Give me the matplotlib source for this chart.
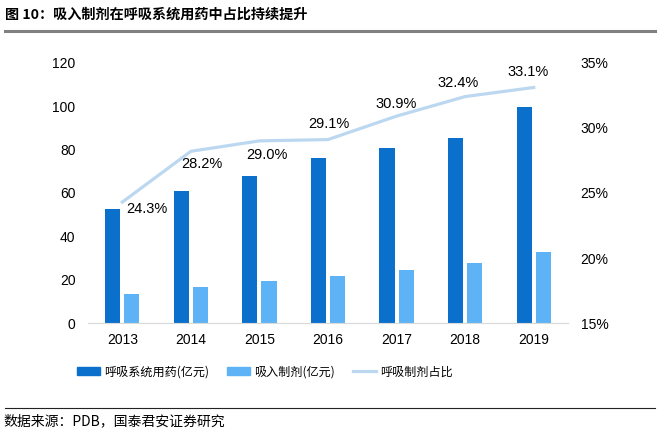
import numpy as np
import matplotlib
matplotlib.use("Agg")
import matplotlib.pyplot as plt
from matplotlib.lines import Line2D

plt.rcParams['font.family'] = ['Liberation Sans', 'Noto Sans CJK SC', 'DejaVu Sans']

# 数据
anios = ['2013', '2014', '2015', '2016', '2017', '2018', '2019']
respiratorio = [52.7, 61.0, 67.8, 76.2, 80.6, 85.2, 99.4]
inhalacion = [13.3, 16.9, 19.5, 21.9, 24.7, 27.6, 33.0]
proporcion = [24.3, 28.2, 29.0, 29.1, 30.9, 32.4, 33.1]

etiquetas_izq = [0, 20, 40, 60, 80, 100, 120]
etiquetas_der = [15, 20, 25, 30, 35]

c_oscuro = '#0b70cc'
c_claro = '#5db3f5'
c_linea = '#bcd8f0'

fig = plt.figure(figsize=(6.6, 4.46), dpi=100)
ax = fig.add_axes([88/660, 1-323.3/446, 480/660, 260.6/446])

x = np.arange(len(anios))
ancho = 0.22
ax.bar(x - 0.14, respiratorio, ancho, color=c_oscuro, zorder=2)
ax.bar(x + 0.14, inhalacion, ancho, color=c_claro, zorder=2)
ax.set_xlim(-0.5, 6.5)
ax.set_ylim(0, 120)
ax.set_yticks(etiquetas_izq)
ax.set_xticks(x)
ax.set_xticklabels(anios)
ax.tick_params(axis='both', length=0, labelsize=10, colors='#000000')
ax.tick_params(axis='y', pad=9)
ax.tick_params(axis='x', pad=7)
for s in ['top', 'left', 'right']:
    ax.spines[s].set_visible(False)
ax.spines['bottom'].set_color('#d9d9d9')

ax2 = ax.twinx()
ax2.plot(x, proporcion, color=c_linea, lw=2.3, zorder=3)
ax2.set_ylim(15, 35)
ax2.set_yticks(etiquetas_der)
ax2.set_yticklabels([f'{v}%' for v in etiquetas_der])
ax2.tick_params(axis='y', length=0, labelsize=10, pad=9)
for s in ['top', 'left', 'right', 'bottom']:
    ax2.spines[s].set_visible(False)

desplazamientos = [(25, -7), (11, -13), (8, -14), (1, 16), (0, 12), (-7, 14), (-6, 15)]
for xi, v, d in zip(x, proporcion, desplazamientos):
    ax2.annotate(f'{v:.1f}%', (xi, v), xytext=d, textcoords='offset pixels',
                 ha='center', va='center', fontsize=10.5)

handles = [plt.Rectangle((0, 0), 1, 1, color=c_oscuro),
           plt.Rectangle((0, 0), 1, 1, color=c_claro),
           Line2D([0], [0], color=c_linea, lw=2.3)]
fig.legend(handles, ['呼吸系统用药(亿元)', '吸入制剂(亿元)', '呼吸制剂占比'],
           loc='center left', bbox_to_anchor=(77/660, 1-372/446), ncol=3,
           frameon=False, borderaxespad=0, borderpad=0, handlelength=1.9,
           handleheight=0.6, handletextpad=0.35, columnspacing=1.5,
           prop={'family': ['Noto Sans CJK SC'], 'size': 8.7})

fig.text(5/660, 1-15/446, '图 10：吸入制剂在呼吸系统用药中占比持续提升', ha='left', va='center',
         fontsize=10.2, fontweight='bold', family=['Noto Sans CJK SC', 'DejaVu Sans'])
fig.add_artist(Line2D([5/660, 655/660], [1-31/446, 1-31/446], color='#808080', lw=2.2))
fig.add_artist(Line2D([5/660, 655/660], [1-408/446, 1-408/446], color='#222222', lw=0.8))
fig.text(3/660, 1-421/446, '数据来源：PDB，国泰君安证券研究', ha='left', va='center',
         fontsize=10, family=['Noto Sans CJK SC', 'DejaVu Sans'])

fig.savefig('out.png', dpi=100)
